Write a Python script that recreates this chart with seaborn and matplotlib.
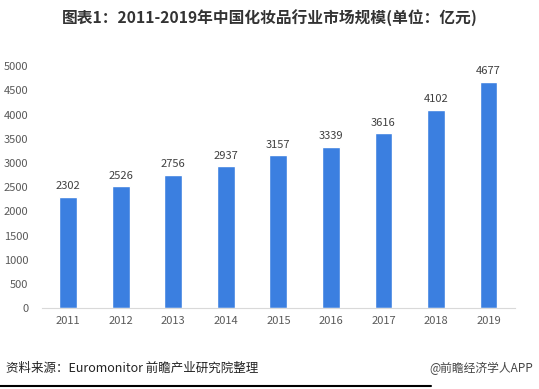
import matplotlib
matplotlib.use("Agg")
import matplotlib.pyplot as plt
import seaborn as sns
import pandas as pd
from matplotlib.lines import Line2D

years = ["2011", "2012", "2013", "2014", "2015", "2016", "2017", "2018", "2019"]
values = [2302, 2526, 2756, 2937, 3157, 3339, 3616, 4102, 4677]
yticks = [0, 500, 1000, 1500, 2000, 2500, 3000, 3500, 4000, 4500, 5000]

title = "图表1：2011-2019年中国化妆品行业市场规模(单位：亿元)"
source = "资料来源：Euromonitor 前瞻产业研究院整理"
credit = "@前瞻经济学人APP"

sns.set_theme(style="white")
plt.rcParams['font.family'] = ['Noto Sans CJK SC', 'DejaVu Sans']

df = pd.DataFrame({"year": years, "value": values})

fig = plt.figure(figsize=(5.39, 3.89), dpi=100)
ax = fig.add_axes([0.078, 0.208, 0.877, 0.622])
sns.barplot(data=df, x="year", y="value", color="#3B7FE0", saturation=1, width=0.34, ax=ax)

for i, v in enumerate(values):
    ax.text(i, v + 110, str(v), ha="center", va="bottom", fontsize=8, color="#404040")

ax.set_ylim(0, 5000)
ax.set_xlim(-0.5, len(years) - 0.5)
ax.set_yticks(yticks)
ax.set_yticklabels([str(t) for t in yticks], fontsize=8, color="#595959")
ax.tick_params(axis="x", labelsize=8, colors="#595959", length=0, pad=6)
ax.tick_params(axis="y", length=0, pad=10)
ax.set_xlabel("")
ax.set_ylabel("")
for s in ["top", "right", "left"]:
    ax.spines[s].set_visible(False)
ax.spines["bottom"].set_color("#D9D9D9")
ax.spines["bottom"].set_linewidth(0.8)

fig.text(0.5, 0.953, title, ha="center", va="center", fontsize=11.3, fontweight="bold", color="#333333")
fig.text(0.012, 0.052, source, ha="left", va="center", fontsize=9, color="#222222")
fig.text(0.99, 0.052, credit, ha="right", va="center", fontsize=8.5, color="#444444")
fig.add_artist(Line2D([0.0, 0.80], [0.008, 0.008], color="black", linewidth=1.5, transform=fig.transFigure))

fig.savefig("out.png", dpi=100)
